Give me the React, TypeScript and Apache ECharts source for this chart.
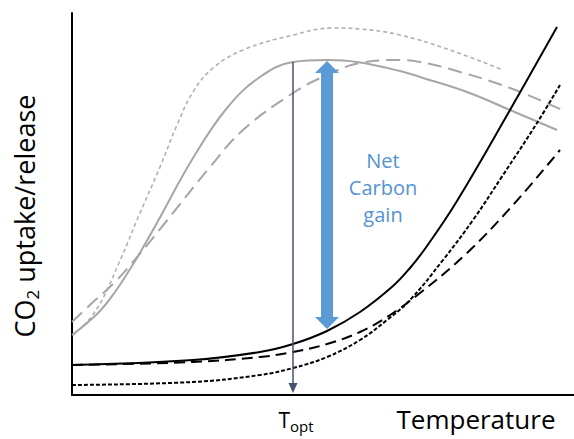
import React, { useEffect, useRef } from "react";
import * as echarts from "echarts";

// Axis extents (arbitrary units: temperature / CO2 flux)
const X_MAX = 502;
const Y_MAX = 382;

// Photosynthesis (gray) curves
const photoSolid: [number, number][] = [
  [0, 60], [26, 82], [43, 103], [60, 129], [73, 151], [86, 174], [121, 237], [155, 287],
  [188, 318], [221, 333], [255, 335], [285, 333], [328, 324], [348, 318], [395, 303],
  [438, 285], [485, 265],
];
const photoDashed: [number, number][] = [
  [0, 73], [20, 92], [43, 113], [66, 139], [93, 172], [138, 228], [171, 265], [221, 302],
  [255, 320], [288, 332], [328, 335], [348, 333], [378, 326], [438, 307], [490, 285],
];
const photoDotted: [number, number][] = [
  [1, 60], [14, 72], [26, 88], [36, 107], [46, 130], [56, 153], [65, 175], [88, 228],
  [105, 270], [121, 303], [141, 327], [171, 345], [221, 360], [261, 367], [288, 366],
  [328, 360], [378, 345], [431, 325],
];

// Respiration (black) curves
const respSolid: [number, number][] = [
  [0, 30], [121, 35], [188, 43], [221, 51], [255, 64], [288, 83], [321, 109], [338, 127],
  [355, 149], [385, 194], [438, 285], [485, 368],
];
const respDashed: [number, number][] = [
  [0, 30], [121, 33], [188, 38], [221, 43], [255, 51], [288, 63], [315, 78], [348, 102],
  [395, 142], [441, 190], [488, 245],
];
const respDotted: [number, number][] = [
  [0, 10], [121, 13], [188, 20], [221, 27], [255, 38], [288, 55], [315, 75], [338, 95],
  [371, 135], [401, 175], [431, 220], [465, 272], [488, 310],
];

// Annotations
const T_OPT = 221;
const T_OPT_FROM = 333;
const T_OPT_TO = 7;
const GAIN_X = 255;
const GAIN_TOP = 328;
const GAIN_BOTTOM = 72;

const xLabel = "Temperature";
const yLabelMain = "CO";
const yLabelSub = "2";
const yLabelRest = " uptake/release";
const tLabel = "T";
const tLabelSub = "opt";
const gainLabel = "Net\nCarbon\ngain";

const FONT = "Open Sans";
const GRAY = "#a6a6a6";

export default function App() {
  const ref = useRef<HTMLDivElement>(null);

  useEffect(() => {
    document.body.style.margin = "0";
    if (!ref.current) return;
    const chart = echarts.init(ref.current, undefined, { renderer: "svg" });

    const lineSeries = (
      data: [number, number][],
      color: string,
      type: any,
      width: number
    ) => ({
      type: "line",
      data,
      showSymbol: false,
      smooth: 0.4,
      silent: true,
      lineStyle: { color, width, type },
    });

    chart.setOption({
      animation: false,
      backgroundColor: "#ffffff",
      grid: { left: 72, right: 0, top: 13, bottom: 44 },
      xAxis: {
        type: "value",
        min: 0,
        max: X_MAX,
        axisLine: { show: true, lineStyle: { color: "#000", width: 2 } },
        axisTick: { show: false },
        axisLabel: { show: false },
        splitLine: { show: false },
      },
      yAxis: {
        type: "value",
        min: 0,
        max: Y_MAX,
        axisLine: { show: true, lineStyle: { color: "#000", width: 2 } },
        axisTick: { show: false },
        axisLabel: { show: false },
        splitLine: { show: false },
      },
      series: [
        lineSeries(photoDotted, "#b0b0b0", [4, 3], 1.6),
        lineSeries(photoDashed, GRAY, [14, 7], 2),
        lineSeries(photoSolid, GRAY, "solid", 2),
        lineSeries(respDotted, "#000", [4, 2], 2),
        lineSeries(respDashed, "#000", [11, 6], 2),
        lineSeries(respSolid, "#000", "solid", 2),
        {
          type: "line",
          data: [],
          z: 5,
          markLine: {
            silent: true,
            animation: false,
            label: { show: false },
            data: [
              [
                {
                  coord: [T_OPT, T_OPT_FROM],
                  symbol: "none",
                  lineStyle: { color: "#44546a", width: 1.5, type: "solid" },
                },
                { coord: [T_OPT, T_OPT_TO], symbol: "triangle", symbolSize: [9, 10] },
              ],
              [
                {
                  coord: [GAIN_X, GAIN_BOTTOM],
                  symbol: "triangle",
                  symbolSize: [24, 12],
                  lineStyle: { color: "#5b9bd5", width: 12, type: "solid", cap: "butt" },
                },
                { coord: [GAIN_X, GAIN_TOP], symbol: "triangle", symbolSize: [24, 12] },
              ],
            ],
          },
        },
      ],
      graphic: [
        {
          type: "text",
          x: 383,
          y: 187,
          silent: true,
          style: {
            text: gainLabel,
            fontFamily: FONT,
            fontSize: 20,
            lineHeight: 27,
            fill: "#5393d2",
            align: "center",
            verticalAlign: "middle",
          },
        },
        {
          type: "text",
          x: 476,
          y: 419,
          silent: true,
          style: {
            text: xLabel,
            fontFamily: FONT,
            fontSize: 26,
            fill: "#000",
            align: "center",
            verticalAlign: "middle",
          },
        },
        {
          type: "text",
          x: 296,
          y: 420,
          silent: true,
          style: {
            text: `{m|${tLabel}}{s|${tLabelSub}}`,
            align: "center",
            verticalAlign: "middle",
            fill: "#000",
            rich: {
              m: { fontFamily: FONT, fontSize: 21, lineHeight: 26, fill: "#000" },
              s: { fontFamily: FONT, fontSize: 15, lineHeight: 15, fill: "#000", verticalAlign: "bottom" },
            },
          },
        },
        {
          type: "text",
          x: 24,
          y: 216,
          rotation: Math.PI / 2,
          silent: true,
          style: {
            text: `{m|${yLabelMain}}{s|${yLabelSub}}{m|${yLabelRest}}`,
            align: "center",
            verticalAlign: "middle",
            fill: "#000",
            rich: {
              m: { fontFamily: FONT, fontSize: 27, lineHeight: 34, fill: "#000" },
              s: { fontFamily: FONT, fontSize: 17, lineHeight: 17, fill: "#000", verticalAlign: "bottom" },
            },
          },
        },
      ],
    });

    return () => chart.dispose();
  }, []);

  return (
    <div
      ref={ref}
      style={{ position: "fixed", left: 0, top: 0, width: 574, height: 439 }}
    />
  );
}
